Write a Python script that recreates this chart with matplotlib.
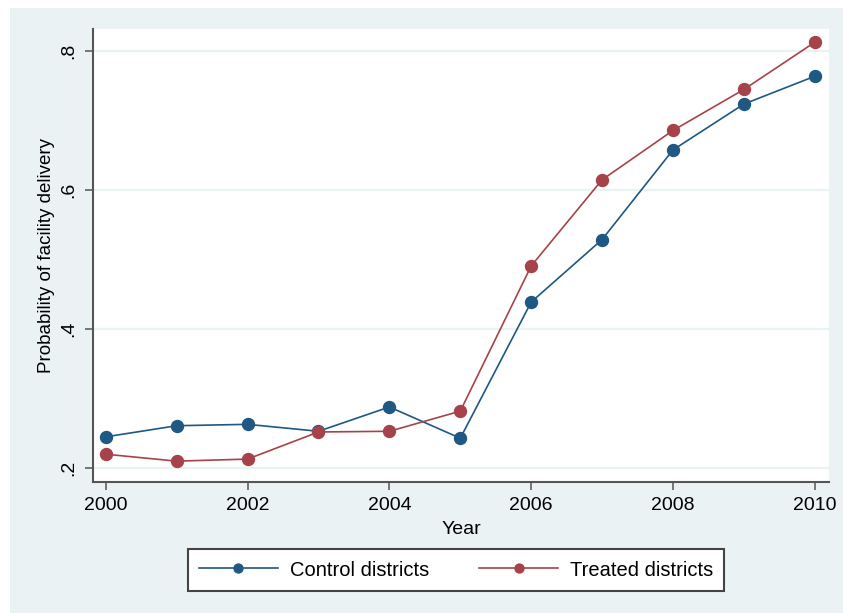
import matplotlib
matplotlib.use("Agg")
import matplotlib.pyplot as plt
from matplotlib.patches import Rectangle

plt.rcParams["font.family"] = ["Liberation Sans", "DejaVu Sans"]

years = [2000, 2001, 2002, 2003, 2004, 2005, 2006, 2007, 2008, 2009, 2010]
control = [0.245, 0.261, 0.263, 0.253, 0.288, 0.243, 0.439, 0.529, 0.658, 0.724, 0.764]
treated = [0.220, 0.210, 0.213, 0.252, 0.253, 0.282, 0.491, 0.615, 0.686, 0.745, 0.813]

x_ticks = [2000, 2002, 2004, 2006, 2008, 2010]
y_ticks = [0.2, 0.4, 0.6, 0.8]
y_tick_labels = [".2", ".4", ".6", ".8"]

navy = "#1f5882"
maroon = "#a6434a"
bg = "#eaf2f3"
axis_col = "#555555"

W, H = 843, 613
fig = plt.figure(figsize=(W / 100, H / 100), dpi=100, facecolor="white")
# Stata-style tinted graph region, leaving a thin white margin top and left
fig.patches.append(Rectangle((10 / W, 0), 1 - 10 / W, 1 - 8 / H,
                             transform=fig.transFigure, facecolor=bg,
                             edgecolor="none", zorder=-10))

ax = fig.add_axes([93 / W, 1 - 482 / H, (829 - 93) / W, (482 - 29) / H])
ax.set_facecolor("white")

for y in y_ticks:
    ax.axhline(y, color=bg, lw=1.6, zorder=0)

ax.plot(years, control, color=navy, lw=1.2, marker="o", ms=8.6,
        mec=navy, mfc=navy, label="Control districts", zorder=3)
ax.plot(years, treated, color=maroon, lw=1.2, marker="o", ms=8.6,
        mec=maroon, mfc=maroon, label="Treated districts", zorder=3)

ax.set_xlim(1999.82, 2010.2)
ax.set_ylim(0.18, 0.832)

ax.set_xticks(x_ticks)
ax.set_xticklabels([str(t) for t in x_ticks], fontsize=14)
ax.set_yticks(y_ticks)
ax.set_yticklabels(y_tick_labels, fontsize=14, rotation=90, va="center")

ax.tick_params(axis="both", direction="out", length=6, width=1.1,
               color=axis_col, pad=5)

for side in ("top", "right"):
    ax.spines[side].set_visible(False)
for side in ("left", "bottom"):
    ax.spines[side].set_color(axis_col)
    ax.spines[side].set_linewidth(1.5)

ax.set_xlabel("Year", fontsize=14, labelpad=5)
ax.set_ylabel("Probability of facility delivery", fontsize=13.5, labelpad=4)

leg = fig.legend(loc="center left", bbox_to_anchor=(188 / W, 1 - 570 / H),
                 ncol=2, fontsize=14.5, frameon=True, fancybox=False,
                 handlelength=3.9, columnspacing=2.5, handletextpad=0.6,
                 markerscale=0.75, borderpad=0.55, borderaxespad=0)
frame = leg.get_frame()
frame.set_edgecolor("#444444")
frame.set_linewidth(1.5)
frame.set_facecolor("white")
frame.set_alpha(1)

fig.savefig("out.png", dpi=100, facecolor=fig.get_facecolor())
